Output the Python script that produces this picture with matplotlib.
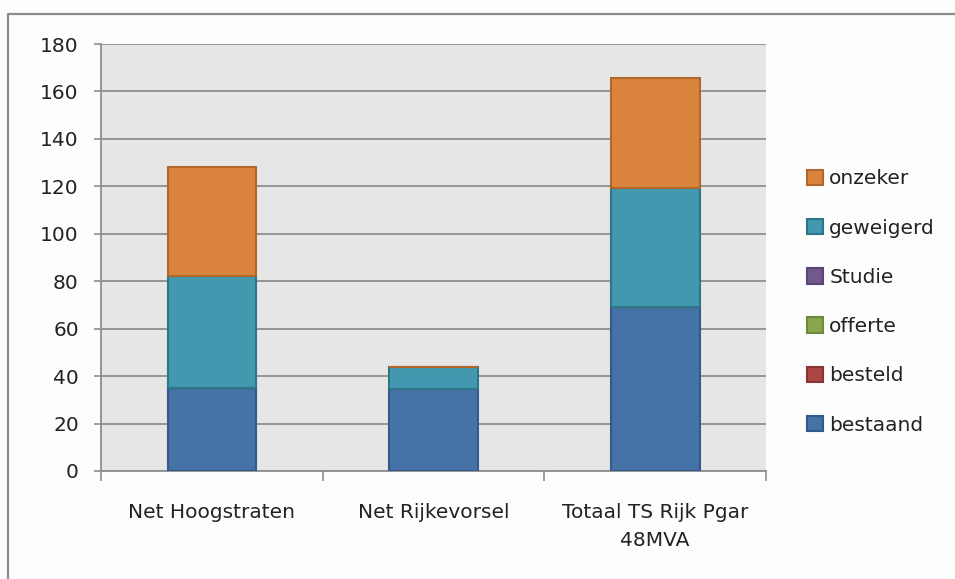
import matplotlib.pyplot as plt
from matplotlib.lines import Line2D
import numpy as np

plt.rcParams['font.family'] = ['DejaVu Sans']

categories = ['Net Hoogstraten', 'Net Rijkevorsel', 'Totaal TS Rijk Pgar\n48MVA']
series = ['bestaand', 'besteld', 'offerte', 'Studie', 'geweigerd', 'onzeker']
bestaand = [35, 34.5, 69]
besteld = [0, 0, 0]
offerte = [0, 0, 0]
studie = [0, 0, 0]
geweigerd = [47, 9.5, 50.5]
onzeker = [46, 0, 46]

values = [bestaand, besteld, offerte, studie, geweigerd, onzeker]
colors = ['#4572A7', '#AA4643', '#89A54E', '#71588F', '#4198AF', '#DB843D']
edges = ['#35598a', '#8a3532', '#6c8a3a', '#5a4573', '#2f7588', '#b0672c']

fig = plt.figure(figsize=(9.55, 5.79), dpi=100)
fig.patch.set_facecolor('#fdfdfd')
# chart frame: only the top and left edges fall inside the image
fx, fy = 8 / 955, 1 - 14 / 579
fig.add_artist(Line2D([fx, fx, 1.0], [0.0, fy, fy], transform=fig.transFigure,
                      color='#8c8c8c', linewidth=1.6))

ax = fig.add_axes([101 / 955, 108 / 579, 665 / 955, 427 / 579])
ax.set_facecolor('#e6e6e6')

x = np.arange(len(categories))
bottom = np.zeros(len(categories))
handles = []
for name, vals, c, ec in zip(series, values, colors, edges):
    vals = np.array(vals, dtype=float)
    b = ax.bar(x, vals, width=0.40, bottom=bottom, color=c, edgecolor=ec,
               linewidth=1.5, label=name, zorder=3)
    handles.append(b)
    bottom += vals

ax.set_xlim(-0.5, 2.5)
ax.set_ylim(0, 180)
ax.set_yticks(range(0, 181, 20))
ax.yaxis.grid(True, color='#8e8e8e', linewidth=1.3, zorder=1)
ax.set_axisbelow(True)

for side in ['top', 'right']:
    ax.spines[side].set_visible(False)
for side in ['left', 'bottom']:
    ax.spines[side].set_color('#8e8e8e')
    ax.spines[side].set_linewidth(1.3)

fs = 14.5
tc = '#222222'
ax.tick_params(axis='y', length=5, width=1.2, color='#8e8e8e', pad=11,
               labelsize=fs, labelcolor=tc)
ax.set_xticks([-0.5, 0.5, 1.5, 2.5])
ax.set_xticklabels([])
ax.tick_params(axis='x', which='major', length=7, width=1.2, color='#8e8e8e')
ax.set_xticks(x, minor=True)
ax.set_xticklabels(categories, minor=True, linespacing=1.6)
ax.tick_params(axis='x', which='minor', length=0, pad=23, labelsize=fs,
               labelcolor=tc)

fig.legend(handles[::-1], series[::-1], loc='center left',
           bbox_to_anchor=(799 / 955, 1 - 302 / 579), frameon=False,
           fontsize=fs, labelspacing=1.5, handlelength=0.8,
           handleheight=0.8, handletextpad=0.3, borderaxespad=0,
           labelcolor=tc)

fig.savefig('out.png', dpi=100)
